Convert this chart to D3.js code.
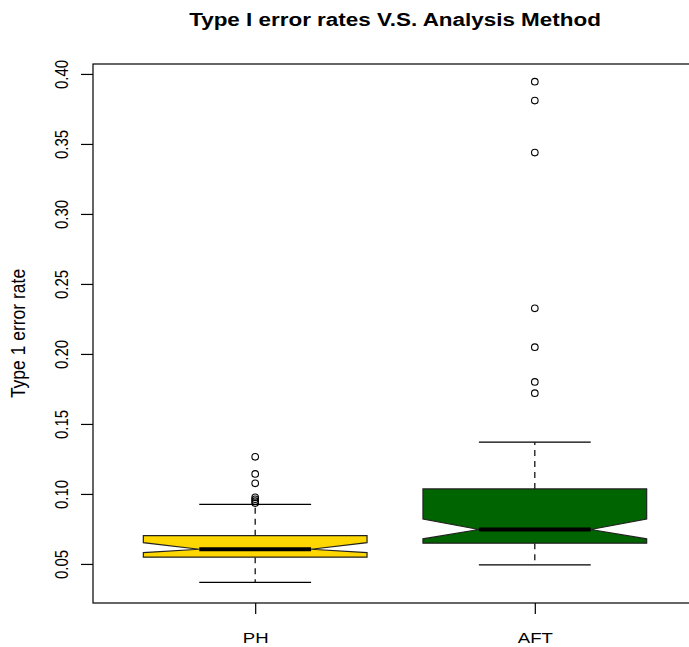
<!DOCTYPE html>
<html>
<head>
<meta charset="utf-8">
<script src="https://cdn.jsdelivr.net/npm/d3@7"></script>
<style>
  body { margin: 0; background: #fff; }
  text { font-family: 'Liberation Sans', Arial, sans-serif; fill: #000; }
</style>
</head>
<body>
<div id="box-chart"></div>
<script>
// box statistics
const methods = ['PH', 'AFT'];
const lowerWhisker = [0.0369, 0.0493];
const lowerQuartile = [0.0548, 0.0648];
const notchLow = [0.0581, 0.0679];
const medians = [0.0605, 0.0746];
const notchHigh = [0.0652, 0.0821];
const upperQuartile = [0.0702, 0.1036];
const upperWhisker = [0.0926, 0.1370];
const outliersPH = [0.0935, 0.0948, 0.0962, 0.0976, 0.1076, 0.1143, 0.1265];
const outliersAFT = [0.1720, 0.1800, 0.2048, 0.2326, 0.3438, 0.3810, 0.3945];
const yTicks = [0.05, 0.10, 0.15, 0.20, 0.25, 0.30, 0.35, 0.40];
const boxColors = ['#FFD700', '#006400'];

const outliers = [outliersPH, outliersAFT];

const width = 689;
const height = 647;
const margin = { top: 64, right: -8, bottom: 44, left: 93 };
const stretch = 1.2; // text in the picture is a bit wider than tall

const svg = d3
    .select('#box-chart')
    .append('svg')
    .attr('width', width)
    .attr('height', height);

// R style: boxes at 1..n, x limits 0.5..n+0.5 plus 4%
const x = d3
    .scaleLinear()
    .domain([0.42, 2.58])
    .range([margin.left, width - margin.right]);

const y = d3
    .scaleLinear()
    .domain([0.0221, 0.4071])
    .range([height - margin.bottom, margin.top]);

const line = d3.line().x(d => x(d[0])).y(d => y(d[1]));

const boxes = methods.map((m, i) => ({
    name: m,
    pos: i + 1,
    lo: lowerWhisker[i],
    q1: lowerQuartile[i],
    nLo: notchLow[i],
    med: medians[i],
    nHi: notchHigh[i],
    q3: upperQuartile[i],
    hi: upperWhisker[i],
    out: outliers[i],
    color: boxColors[i]
}));

const g = svg.selectAll('.box').data(boxes).enter().append('g').attr('class', 'box');

// whiskers (dashed) and staples
g.append('path')
    .attr('d', d => line([[d.pos, d.q3], [d.pos, d.hi]]) + line([[d.pos, d.q1], [d.pos, d.lo]]))
    .attr('stroke', '#000')
    .attr('stroke-width', 1.2)
    .attr('stroke-dasharray', '6,5')
    .attr('fill', 'none');

g.append('path')
    .attr('d', d => line([[d.pos - 0.2, d.hi], [d.pos + 0.2, d.hi]]) + line([[d.pos - 0.2, d.lo], [d.pos + 0.2, d.lo]]))
    .attr('stroke', '#000')
    .attr('stroke-width', 1.2)
    .attr('fill', 'none');

// notched box
g.append('path')
    .attr('d', d => line([
        [d.pos - 0.4, d.q1], [d.pos - 0.4, d.nLo], [d.pos - 0.2, d.med], [d.pos - 0.4, d.nHi],
        [d.pos - 0.4, d.q3], [d.pos + 0.4, d.q3], [d.pos + 0.4, d.nHi], [d.pos + 0.2, d.med],
        [d.pos + 0.4, d.nLo], [d.pos + 0.4, d.q1]
    ]) + 'Z')
    .attr('fill', d => d.color)
    .attr('stroke', '#222')
    .attr('stroke-width', 1.2);

// median
g.append('path')
    .attr('d', d => line([[d.pos - 0.2, d.med], [d.pos + 0.2, d.med]]))
    .attr('stroke', '#000')
    .attr('stroke-width', 4);

// outliers
g.selectAll('.out')
    .data(d => d.out.map(v => ({ pos: d.pos, v })))
    .enter()
    .append('circle')
    .attr('cx', d => x(d.pos))
    .attr('cy', d => y(d.v))
    .attr('r', 3.3)
    .attr('fill', 'none')
    .attr('stroke', '#000')
    .attr('stroke-width', 1.1);

// frame
svg.append('rect')
    .attr('x', x.range()[0])
    .attr('y', y.range()[1])
    .attr('width', x.range()[1] - x.range()[0])
    .attr('height', y.range()[0] - y.range()[1])
    .attr('fill', 'none')
    .attr('stroke', '#000')
    .attr('stroke-width', 1.2);

// y axis
const yAxis = svg
    .append('g')
    .attr('transform', `translate(${margin.left}, 0)`)
    .call(d3.axisLeft(y).tickValues(yTicks).tickSize(12).tickFormat(d3.format('.2f')));
yAxis.select('.domain').remove();
yAxis.selectAll('line').attr('stroke', '#000').attr('stroke-width', 1.2);
yAxis.selectAll('text')
    .attr('x', 0)
    .attr('dy', 0)
    .attr('text-anchor', 'middle')
    .attr('transform', `translate(-25, 0) scale(${stretch}, 1) rotate(-90)`)
    .style('font-size', '15px');

// x axis
const xAxis = svg
    .append('g')
    .attr('transform', `translate(0, ${height - margin.bottom})`)
    .call(d3.axisBottom(x).tickValues([1, 2]).tickSize(11).tickFormat(d => methods[d - 1]));
xAxis.select('.domain').remove();
xAxis.selectAll('line').attr('stroke', '#000').attr('stroke-width', 1.2);
xAxis.selectAll('text')
    .attr('y', 0)
    .attr('dy', 0)
    .attr('transform', `translate(0, 40) scale(${stretch}, 1)`)
    .style('font-size', '15.5px');

// title
svg.append('text')
    .attr('transform', `translate(${(x.range()[0] + x.range()[1]) / 2}, 26) scale(${stretch}, 1)`)
    .attr('text-anchor', 'middle')
    .style('font-size', '18.7px')
    .style('font-weight', 'bold')
    .text('Type I error rates V.S. Analysis Method');

// y label
svg.append('text')
    .attr('transform', `translate(25, ${(y.range()[0] + y.range()[1]) / 2}) scale(${stretch}, 1) rotate(-90)`)
    .attr('text-anchor', 'middle')
    .style('font-size', '17.5px')
    .text('Type 1 error rate');
</script>
</body>
</html>
